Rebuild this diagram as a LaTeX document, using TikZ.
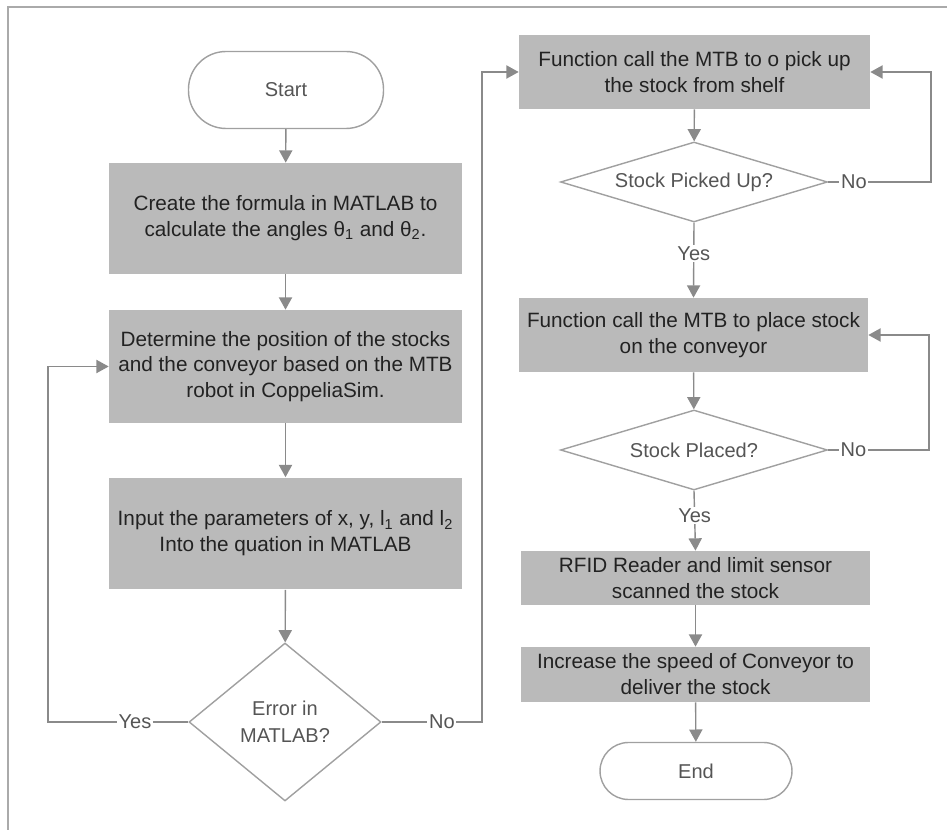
\documentclass[tikz,border=0pt]{standalone}
\usepackage{fontspec}
\setmainfont{Liberation Sans}
\usetikzlibrary{shapes.geometric,arrows.meta}

\definecolor{boxfill}{RGB}{186,186,186}
\definecolor{boxtext}{RGB}{34,34,34}
\definecolor{lbltext}{RGB}{85,85,85}
\definecolor{linecol}{RGB}{138,138,138}
\definecolor{shapeline}{RGB}{160,160,160}
\definecolor{framecol}{RGB}{170,170,170}

\tikzset{
  procbox/.style={rectangle, fill=boxfill, draw=none, text=boxtext,
    align=center, inner sep=0pt, font=\fontsize{11.8pt}{14.7pt}\selectfont},
  termbox/.style={rectangle, rounded corners=0.75cm, draw=shapeline, line width=0.8pt,
    fill=white, text=lbltext, inner sep=0pt, font=\fontsize{11.4pt}{14.7pt}\selectfont},
  decbox/.style={diamond, draw=shapeline, line width=0.8pt, fill=white, text=lbltext,
    align=center, inner sep=0pt, font=\fontsize{11.4pt}{15.5pt}\selectfont},
  flow/.style={draw=linecol, line width=0.8pt,
    -{Triangle[width=7.5pt,length=7pt,fill=linecol]}},
  lbl/.style={fill=white, text=lbltext, inner sep=1pt,
    font=\fontsize{11.4pt}{12pt}\selectfont}
}

\begin{document}
\begin{tikzpicture}[x=0.02cm,y=-0.02cm]
  \useasboundingbox (0,0) rectangle (947,830);

  % outer frame
  \draw[framecol, line width=0.8pt] (8,830) -- (8,7) -- (947,7);

  % left column
  \node[termbox, minimum width=3.9cm, minimum height=1.54cm] (start) at (286,90) {Start};
  \node[procbox, minimum width=7.06cm, minimum height=2.22cm] (formula) at (285.5,218.5)
    {Create the formula in MATLAB to\\calculate the angles θ\textsubscript{1} and θ\textsubscript{2}.};
  \node[procbox, minimum width=7.06cm, minimum height=2.26cm] (position) at (285.5,366.5)
    {Determine the position of the stocks\\and the conveyor based on the MTB\\robot in CoppeliaSim.};
  \node[procbox, minimum width=7.06cm, minimum height=2.24cm] (params) at (285.5,533.5)
    {Input the parameters of x, y, l\textsubscript{1} and l\textsubscript{2}\\Into the quation in MATLAB};
  \node[decbox, aspect=1.215, minimum width=3.84cm, minimum height=3.16cm] (err) at (285,722)
    {Error in\\MATLAB?};

  % right column
  \node[procbox, minimum width=7.02cm, minimum height=1.48cm] (pick) at (694.5,72)
    {Function call the MTB to o pick up\\the stock from shelf};
  \node[decbox, aspect=3.34, minimum width=5.34cm, minimum height=1.6cm] (picked) at (694,182)
    {Stock Picked Up?};
  \node[procbox, minimum width=6.98cm, minimum height=1.48cm] (place) at (693.5,335)
    {Function call the MTB to place stock\\on the conveyor};
  \node[decbox, aspect=3.34, minimum width=5.34cm, minimum height=1.6cm] (placed) at (694,450)
    {Stock Placed?};
  \node[procbox, minimum width=6.98cm, minimum height=1.08cm] (rfid) at (695.5,578)
    {RFID Reader and limit sensor\\scanned the stock};
  \node[procbox, minimum width=6.98cm, minimum height=1.1cm] (speed) at (695.5,674.5)
    {Increase the speed of Conveyor to\\deliver the stock};
  \node[termbox, minimum width=3.84cm, minimum height=1.14cm, rounded corners=0.57cm] (end) at (696,771) {End};

  % turning points of the loops
  \coordinate (yesturn) at (48,722);
  \coordinate (noturn) at (482,722);
  \coordinate (pickturn) at (931,182);
  \coordinate (placeturn) at (929,450);

  % main flow, left column
  \draw[flow] (start) -- (formula);
  \draw[flow] (formula) -- (position);
  \draw[flow] (position) -- (params);
  \draw[flow] (params) -- (err);

  % decision in MATLAB
  \draw[flow] (err.west) -- node[lbl, pos=0.38] {Yes} (yesturn) |- (position.west);
  \draw[flow] (err.east) -- node[lbl, pos=0.6] {No} (noturn) |- (pick.west);

  % right column
  \draw[flow] (pick) -- (picked);
  \draw[flow] (picked.east) -- node[lbl, pos=0.25] {No} (pickturn) |- (pick.east);
  \draw[flow] (picked.south) -- node[lbl, pos=0.41] {Yes} (place.north);
  \draw[flow] (place) -- (placed);
  \draw[flow] (placed.east) -- node[lbl, pos=0.25] {No} (placeturn) |- (place.east);
  \draw[flow] (placed.south) -- node[lbl, pos=0.41] {Yes} (rfid.north);
  \draw[flow] (rfid) -- (speed);
  \draw[flow] (speed) -- (end);
\end{tikzpicture}
\end{document}
